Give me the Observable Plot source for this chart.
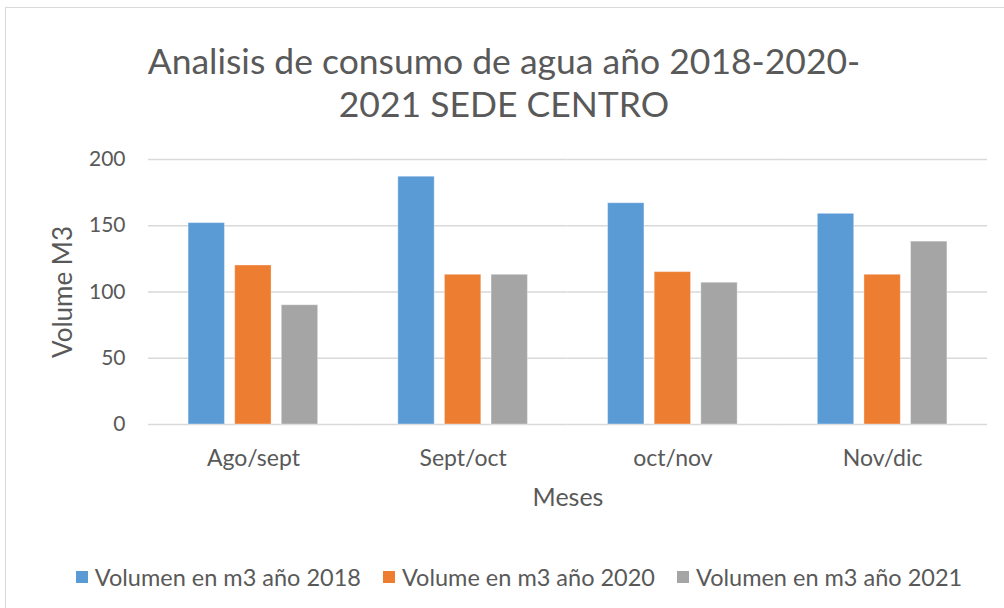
<!DOCTYPE html>
<html>
<head>
<meta charset="utf-8">
<script src="https://cdn.jsdelivr.net/npm/d3@7"></script>
<script src="https://cdn.jsdelivr.net/npm/@observablehq/plot@0.6"></script>
<style>
  html, body { margin: 0; padding: 0; background: #fff; }
  body { width: 1004px; height: 608px; position: relative; overflow: hidden; font-family: Lato, "Open Sans", sans-serif; color: #595959; }
  #frame { position: absolute; left: 5px; top: 7px; width: 1100px; height: 700px; border: 1px solid #d9d9d9; box-sizing: border-box; }
  #title { position: absolute; left: 0; width: 1008px; top: 39px; text-align: center; font-size: 35.5px; line-height: 43px; color: #595959; }
  #chart { position: absolute; left: 0; top: 140px; }
  #legend { position: absolute; left: 0; width: 1038px; top: 563px; display: flex; justify-content: center; gap: 22px; font-size: 23.5px; line-height: 28px; }
  .item { display: flex; align-items: center; gap: 7px; white-space: nowrap; }
  .sw { width: 12px; height: 12px; display: inline-block; }
</style>
</head>
<body>
<div id="frame"></div>
<div id="title">Analisis de consumo de agua año 2018-2020-<br>2021 SEDE CENTRO</div>
<div id="chart"></div>
<div id="legend"></div>
<script>
const categories = ["Ago/sept", "Sept/oct", "oct/nov", "Nov/dic"];
const seriesNames = ["Volumen en m3 año 2018", "Volume en m3 año 2020", "Volumen en m3 año 2021"];
const values2018 = [152, 187, 167, 159];
const values2020 = [120, 113, 115, 113];
const values2021 = [90, 113, 107, 138];
const yTicks = [0, 50, 100, 150, 200];
const colors = ["#5b9bd5", "#ed7d31", "#a5a5a5"];

const seriesValues = [values2018, values2020, values2021];
const data = [];
categories.forEach((c, i) => {
  seriesNames.forEach((s, j) => {
    data.push({cat: c, series: s, value: seriesValues[j][i]});
  });
});

const chart = Plot.plot({
  width: 1004,
  height: 380,
  marginLeft: 148,
  marginRight: 17,
  marginTop: 19,
  marginBottom: 96,
  style: {fontFamily: "Lato, 'Open Sans', sans-serif", color: "#595959", background: "transparent"},
  fx: {domain: categories, padding: 0, round: false, label: null},
  x: {domain: seriesNames, paddingInner: 0.22, paddingOuter: 0.86, round: false, axis: null},
  y: {domain: [0, 200], ticks: yTicks},
  color: {domain: seriesNames, range: colors},
  marks: [
    Plot.gridY(yTicks, {stroke: "#d9d9d9", strokeOpacity: 1, strokeWidth: 1.5}),
    Plot.barY(data, {fx: "cat", x: "series", y: "value", fill: "series", stroke: "#ffffff", strokeOpacity: 0.35, strokeWidth: 1}),
    Plot.axisY({ticks: yTicks, tickSize: 0, tickPadding: 23, fontSize: 21, fill: "#595959",
      label: "Volume M3", labelAnchor: "center", labelArrow: "none", labelOffset: 95}),
    Plot.axisFx({anchor: "bottom", tickSize: 0, tickPadding: 25, fontSize: 23, fill: "#595959",
      label: "Meses", labelAnchor: "center", labelArrow: "none", labelOffset: 81})
  ]
});
chart.querySelectorAll("text").forEach(t => {
  if (t.textContent === "Volume M3") t.setAttribute("font-size", 26);
  if (t.textContent === "Meses") t.setAttribute("font-size", 25);
});
document.getElementById("chart").appendChild(chart);

const legend = document.getElementById("legend");
seriesNames.forEach((s, j) => {
  const item = document.createElement("div");
  item.className = "item";
  const sw = document.createElement("span");
  sw.className = "sw";
  sw.style.background = colors[j];
  const tx = document.createElement("span");
  tx.textContent = s;
  item.appendChild(sw);
  item.appendChild(tx);
  legend.appendChild(item);
});
</script>
</body>
</html>
